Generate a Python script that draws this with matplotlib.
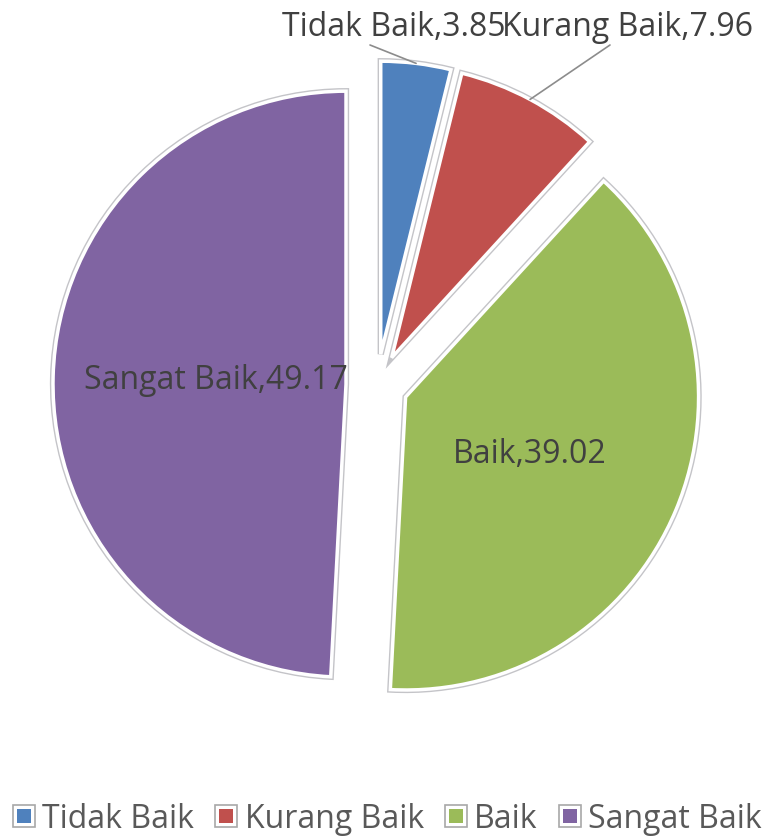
import numpy as np
import matplotlib
matplotlib.use("Agg")
import matplotlib.pyplot as plt
from matplotlib.lines import Line2D
from matplotlib.legend_handler import HandlerTuple
import matplotlib.patheffects as pe

categories = ["Tidak Baik", "Kurang Baik", "Baik", "Sangat Baik"]
values = [3.85, 7.96, 39.02, 49.17]
colors = ["#4F81BD", "#C0504D", "#9BBB59", "#8064A2"]

W, H = 774, 840
fig = plt.figure(figsize=(W / 100, H / 100), dpi=100)
ax = fig.add_axes([0, 0, 1, 1])

cx, cy = 377, H - 385
R = 293
explode = [31] * 4  # absolute offset in data units (pixels)

wedges, _ = ax.pie(values, colors=colors, startangle=90, counterclock=False,
                   explode=explode, center=(cx, cy), radius=R,
                   wedgeprops=dict(edgecolor="white", linewidth=2.5))
for w in wedges:
    w.set_path_effects([pe.Stroke(linewidth=4.5, foreground="#c4c4c8"), pe.Normal()])

ax.set_xlim(0, W)
ax.set_ylim(0, H)
ax.set_aspect("equal")
ax.axis("off")

font = "Open Sans"
txtcol = "#404040"
fs = 23

def wedge_point(w, frac):
    th = np.deg2rad((w.theta1 + w.theta2) / 2)
    c = w.center
    return c[0] + frac * w.r * np.cos(th), c[1] + frac * w.r * np.sin(th)

# inside labels
inside_frac = {2: 0.46, 3: 0.445}
inside_dy = {2: -5, 3: 0}
for i in (2, 3):
    x, y = wedge_point(wedges[i], inside_frac[i])
    ax.text(x, y + inside_dy[i], f"{categories[i]},{values[i]:.2f}", ha="center", va="center",
            fontsize=fs, color=txtcol, family=font)

# outside labels with leaders
label_pos = {0: (394, H - 27), 1: (627, H - 27)}
line_start = {0: (370, H - 45), 1: (610, H - 45)}
for i in (0, 1):
    x, y = wedge_point(wedges[i], 1.0)
    ax.annotate("", xy=(x, y), xytext=line_start[i],
                arrowprops=dict(arrowstyle="-", color="#8c8c8c", lw=1.2,
                                shrinkA=0, shrinkB=0))
    ax.text(*label_pos[i], f"{categories[i]},{values[i]:.2f}", ha="center", va="center",
            fontsize=fs, color=txtcol, family=font)

handles = []
for c in colors:
    outer = Line2D([], [], linestyle="none", marker="s", markersize=16,
                   markerfacecolor="white", markeredgecolor="#a8a8a8", markeredgewidth=1.2)
    inner = Line2D([], [], linestyle="none", marker="s", markersize=9.5,
                   markerfacecolor=c, markeredgecolor=c, markeredgewidth=0)
    handles.append((outer, inner))

leg = fig.legend(handles, categories, loc="center", bbox_to_anchor=(0.5, 21 / H),
                 ncol=4, frameon=False, handlelength=0.75, handleheight=0.8,
                 handletextpad=0.2, columnspacing=0.63,
                 handler_map={tuple: HandlerTuple(ndivide=1, pad=0)},
                 prop=dict(family=font, size=fs))
for t in leg.get_texts():
    t.set_color("#595959")

fig.savefig("out.png", dpi=100)
